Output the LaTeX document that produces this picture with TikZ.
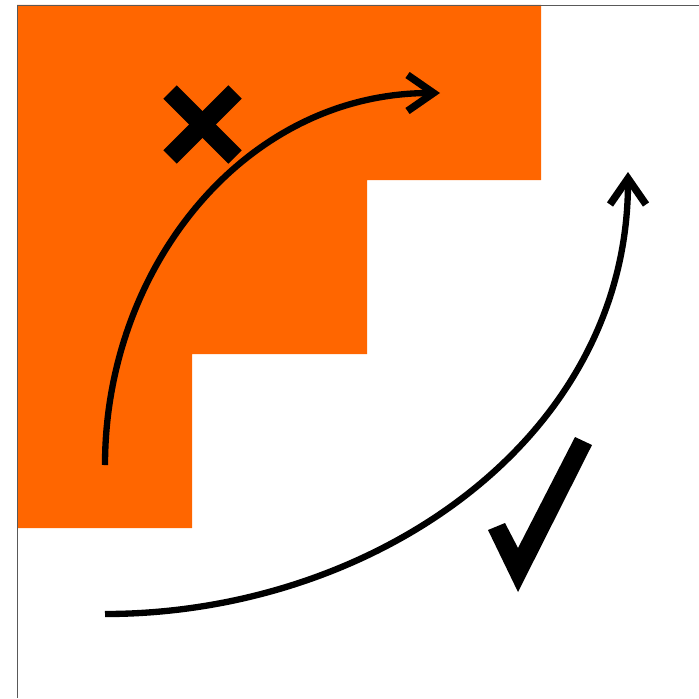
\documentclass[tikz,border=0pt]{standalone}
\usepackage{tikz}
\usetikzlibrary{arrows.meta, calc}
\usepackage{xcolor}
\definecolor{blockorange}{HTML}{FF6600}
\tikzset{
  region/.style={fill=blockorange, draw=none},
  frame/.style={draw=black!65, line width=1.1pt},
  arrow/.style={-{Straight Barb[length=0.52cm, width=0.72cm, line width=4.2pt]}, line width=3.6pt, draw=black},
  cross/.style={line width=0.38cm, draw=black},
  tick/.style={fill=black, draw=none}
}

\begin{document}
\begin{tikzpicture}
  \useasboundingbox (0,0) rectangle (13.98,13.96);

  % staircase region
  \fill[region] (0.34,13.86) -- (10.82,13.86) -- (10.82,10.36) -- (7.34,10.36)
    -- (7.34,6.88) -- (3.84,6.88) -- (3.84,3.40) -- (0.34,3.40) -- cycle;

  % axes frame
  \coordinate (corner) at (0.35,13.85);
  \draw[frame] (13.98,13.85) -- (corner) -- (0.35,0);

  % curved arrows
  \coordinate (inStart) at (2.10,4.66);
  \coordinate (inEnd) at (8.80,12.10);
  \coordinate (outStart) at (2.10,1.68);
  \coordinate (outEnd) at (12.56,10.52);
  \draw[arrow] (inStart) to[out=90, in=180] (inEnd);
  \draw[arrow] (outStart) to[out=0, in=-90] (outEnd);

  % cross
  \draw[cross] (3.40,12.12) -- (4.70,10.82);
  \draw[cross] (4.70,12.12) -- (3.40,10.82);

  % check mark
  \fill[tick] (9.76,3.36) -- (10.10,3.50) -- (10.36,3.00) -- (11.50,5.22)
    -- (11.84,5.06) -- (10.36,2.12) -- cycle;
\end{tikzpicture}
\end{document}
